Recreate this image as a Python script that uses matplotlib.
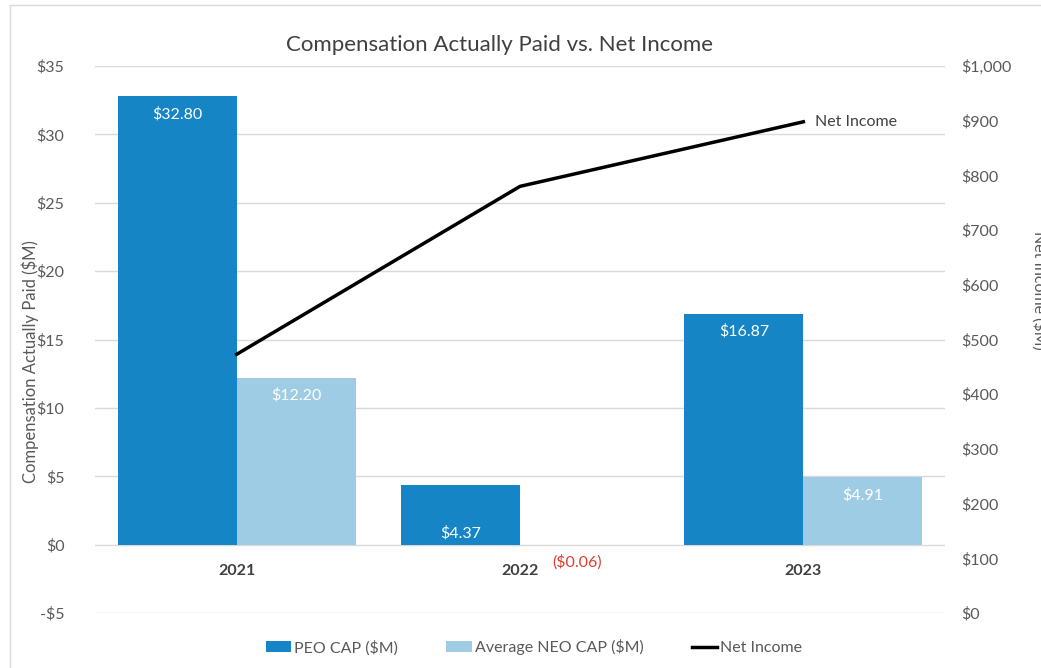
import matplotlib.pyplot as plt
import numpy as np
from matplotlib.patches import Rectangle

years = ["2021", "2022", "2023"]
peo_cap = [32.80, 4.37, 16.87]
neo_cap = [12.20, -0.06, 4.91]
net_income = [473, 780, 898]

peo_labels = ["$32.80", "$4.37", "$16.87"]
neo_labels = ["$12.20", "($0.06)", "$4.91"]

plt.rcParams['font.family'] = ['Lato', 'DejaVu Sans']

grey = "#595959"
peo_color = "#1585C5"
neo_color = "#9ECCE4"

fig = plt.figure(figsize=(10.41, 6.68), dpi=100)
ax = fig.add_axes([0.0913, 0.0823, 0.8165, 0.8189])
ax2 = ax.twinx()

x = np.arange(len(years))
w = 0.42
b1 = ax.bar(x - w / 2, peo_cap, w, color=peo_color, label="PEO CAP ($M)", zorder=3)
b2 = ax.bar(x + w / 2, neo_cap, w, color=neo_color, label="Average NEO CAP ($M)", zorder=3)

ax.set_xlim(-0.5, 2.5)
ax.set_ylim(-5, 35)
ax.set_yticks(range(-5, 36, 5))
ax.set_yticklabels([f"-${-v}" if v < 0 else f"${v}" for v in range(-5, 36, 5)])
ax.grid(axis='y', color="#D9D9D9", linewidth=1, zorder=0)
ax.set_xticks([])
ax.tick_params(axis='y', length=0, colors=grey, labelsize=11.5, pad=22)
for s in ax.spines.values():
    s.set_visible(False)
fig.text(0.029, 0.458, "Compensation Actually Paid ($M)", rotation=90, ha='center', va='center',
         color=grey, fontsize=12)

# year labels sit just under the zero line
for i, yr in enumerate(years):
    ax.text(i, -1.95, yr, ha='center', va='center', fontweight='bold', color="#404040", fontsize=11.5)

# data labels
for i, (v, lab) in enumerate(zip(peo_cap, peo_labels)):
    if v > 8:
        ax.text(i - w / 2, v - 1.3, lab, ha='center', va='center', color='white', fontsize=11.5, zorder=5)
    else:
        ax.text(i - w / 2, 0.8, lab, ha='center', va='center', color='white', fontsize=11.5, zorder=5)
for i, (v, lab) in enumerate(zip(neo_cap, neo_labels)):
    if v < 0:
        ax.text(i + w / 2 - 0.01, -1.3, lab, ha='center', va='center', color="#E03C31", fontsize=11.5, zorder=5)
    else:
        ax.text(i + w / 2, v - 1.3, lab, ha='center', va='center', color='white', fontsize=11.5, zorder=5)

ln, = ax2.plot(x, net_income, color='black', linewidth=2.5, label="Net Income", zorder=4)
ax2.set_ylim(0, 1000)
ax2.set_yticks(range(0, 1001, 100))
ax2.set_yticklabels([f"${v:,}" for v in range(0, 1001, 100)])
ax2.tick_params(axis='y', length=0, colors=grey, labelsize=11.5, pad=12)
for s in ax2.spines.values():
    s.set_visible(False)
ax2.text(x[-1] + 0.04, net_income[-1], "Net Income", ha='left', va='center', color="#404040", fontsize=11.5)
fig.text(0.998, 0.565, "Net Income ($M)", rotation=270, ha='center', va='center', color=grey, fontsize=11.5)

fig.text(0.48, 0.932, "Compensation Actually Paid vs. Net Income", ha='center', va='center',
         fontsize=16, color="#404040")

fig.legend(handles=[b1, b2, ln], loc='center', bbox_to_anchor=(0.513, 0.031), ncol=3, frameon=False,
           fontsize=11.5, labelcolor=grey, handlelength=1.6, handletextpad=0.2, columnspacing=3.0)

fig.patches.append(Rectangle((0.0096, -0.1), 1.2, 1.092, transform=fig.transFigure,
                             fill=False, edgecolor="#D9D9D9", linewidth=1))

fig.savefig("out.png", dpi=100)
